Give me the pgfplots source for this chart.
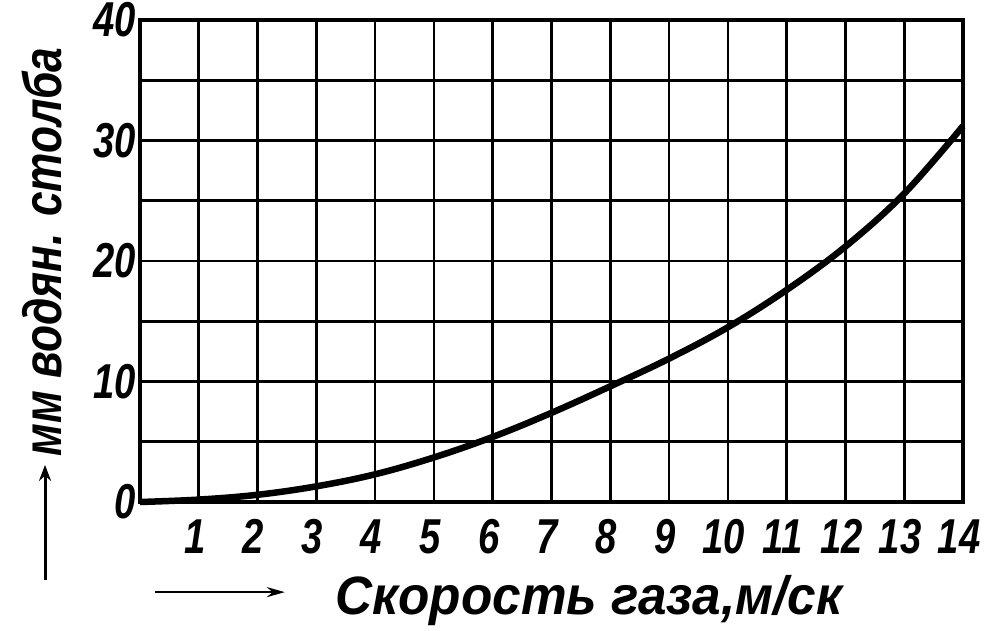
\documentclass[border=0pt]{standalone}
\usepackage{pgfplots}
\pgfplotsset{compat=1.18}
\usetikzlibrary{arrows.meta}
\usepackage{fontspec}
\newfontfamily\hand{Liberation Sans}[FakeStretch=0.78]
\newfontfamily\handlab{Liberation Sans}[FakeStretch=0.95]
\newfontfamily\handy{Liberation Sans}[FakeStretch=0.82]
\begin{document}
\begin{tikzpicture}
\useasboundingbox (0,0) rectangle (990pt,630pt);
\begin{axis}[
  at={(140pt,128pt)}, anchor=south west,
  width=823pt, height=482pt, scale only axis,
  xmin=0, xmax=14, ymin=0, ymax=40,
  xtick={1,2,3,4,5,6,7,8,9,10,11,12,13,14},
  ytick={0,10,20,30,40},
  minor ytick={5,15,25,35},
  grid=both,
  major grid style={line width=2.6pt, black},
  minor grid style={line width=2.6pt, black},
  axis line style={line width=4pt, black},
  tick style={draw=none},
  /pgf/number format/assume math mode=true,
  ticklabel style={font=\hand\bfseries\itshape\fontsize{49}{52}\selectfont, inner sep=0pt},
  xticklabel style={anchor=base, yshift=-51pt, xshift=-4pt},
  yticklabel style={anchor=east, xshift=-4pt},
  clip=false,
]
\addplot[line width=6.5pt, black, smooth, tension=0.6] coordinates {
(0,0) (1,0.2) (2,0.6) (3,1.3) (4,2.3) (5,3.7) (6,5.4) (7,7.4) (8,9.6)
(9,11.9) (10,14.5) (11,17.6) (12,21.2) (13,25.6) (14,31.2)
};
\node[rotate=90, font=\handy\bfseries\itshape\fontsize{54}{58}\selectfont, inner sep=0pt]
  at (axis description cs:-0.119,0.519) {мм водян. столба};
\draw[line width=3pt, -{Stealth[length=16pt,width=12pt]}]
  (axis description cs:-0.1154,-0.162) -- (axis description cs:-0.1154,0.077);
\node[anchor=base, font=\handlab\bfseries\itshape\fontsize{54}{58}\selectfont, inner sep=0pt]
  at (axis description cs:0.5456,-0.2344) {Скорость газа,м/ск};
\draw[line width=2.5pt, -{Stealth[length=18pt,width=10pt]}]
  (axis description cs:0.018,-0.187) -- (axis description cs:0.176,-0.187);
\end{axis}
\end{tikzpicture}
\end{document}
